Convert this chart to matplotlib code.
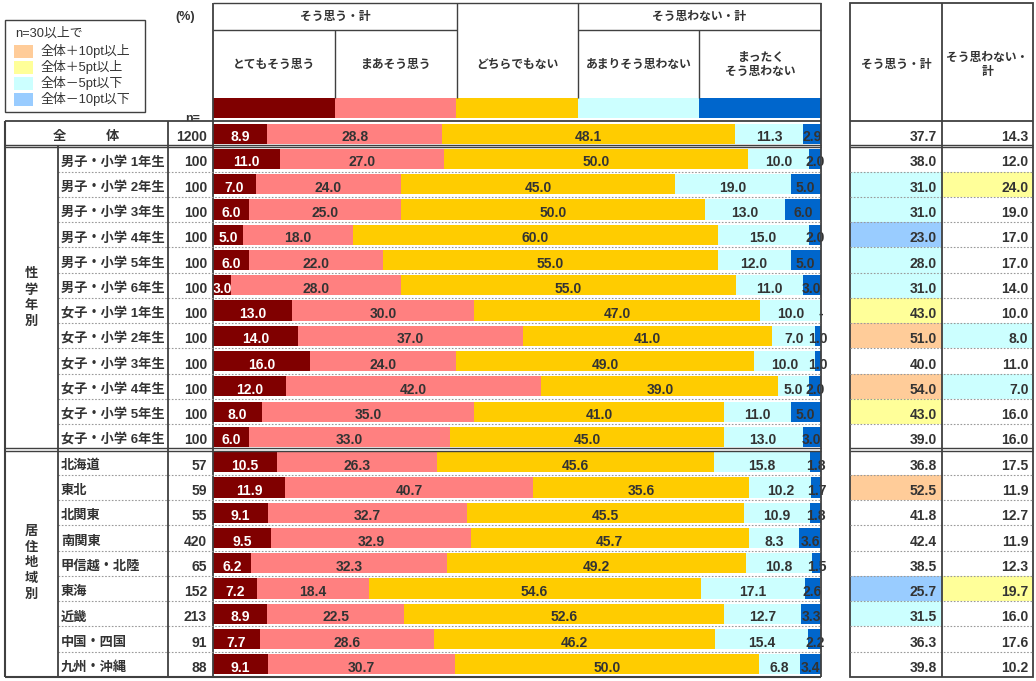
import matplotlib
matplotlib.use("Agg")
import matplotlib.pyplot as plt
from matplotlib.patches import Rectangle
import numpy as np

plt.rcParams['font.family'] = ['Liberation Sans', 'Noto Sans CJK JP']

# --- data -------------------------------------------------------------
series = ["とてもそう思う", "まあそう思う", "どちらでもない", "あまりそう思わない", "まったく\nそう思わない"]
series_colors = ["#800000", "#FF8080", "#FFCC00", "#CCFFFF", "#0066CC"]

row_labels = ["全　　　体",
              "男子・小学 1年生", "男子・小学 2年生", "男子・小学 3年生",
              "男子・小学 4年生", "男子・小学 5年生", "男子・小学 6年生",
              "女子・小学 1年生", "女子・小学 2年生", "女子・小学 3年生",
              "女子・小学 4年生", "女子・小学 5年生", "女子・小学 6年生",
              "北海道", "東北", "北関東", "南関東", "甲信越・北陸",
              "東海", "近畿", "中国・四国", "九州・沖縄"]
n_values = [1200] + [100] * 12 + [57, 59, 55, 420, 65, 152, 213, 91, 88]

very = [8.9, 11.0, 7.0, 6.0, 5.0, 6.0, 3.0, 13.0, 14.0, 16.0, 12.0, 8.0, 6.0,
        10.5, 11.9, 9.1, 9.5, 6.2, 7.2, 8.9, 7.7, 9.1]
fairly = [28.8, 27.0, 24.0, 25.0, 18.0, 22.0, 28.0, 30.0, 37.0, 24.0, 42.0, 35.0, 33.0,
          26.3, 40.7, 32.7, 32.9, 32.3, 18.4, 22.5, 28.6, 30.7]
neutral = [48.1, 50.0, 45.0, 50.0, 60.0, 55.0, 55.0, 47.0, 41.0, 49.0, 39.0, 41.0, 45.0,
           45.6, 35.6, 45.5, 45.7, 49.2, 54.6, 52.6, 46.2, 50.0]
not_much = [11.3, 10.0, 19.0, 13.0, 15.0, 12.0, 11.0, 10.0, 7.0, 10.0, 5.0, 11.0, 13.0,
            15.8, 10.2, 10.9, 8.3, 10.8, 17.1, 12.7, 15.4, 6.8]
not_at_all = [2.9, 2.0, 5.0, 6.0, 2.0, 5.0, 3.0, 0.0, 1.0, 1.0, 2.0, 5.0, 3.0,
              1.8, 1.7, 1.8, 3.6, 1.5, 2.6, 3.3, 2.2, 3.4]

agree_total = [37.7, 38.0, 31.0, 31.0, 23.0, 28.0, 31.0, 43.0, 51.0, 40.0, 54.0, 43.0, 39.0,
               36.8, 52.5, 41.8, 42.4, 38.5, 25.7, 31.5, 36.3, 39.8]
disagree_total = [14.3, 12.0, 24.0, 19.0, 17.0, 17.0, 14.0, 10.0, 8.0, 11.0, 7.0, 16.0, 16.0,
                  17.5, 11.9, 12.7, 11.9, 12.3, 19.7, 16.0, 17.6, 10.2]

groups = [("性\n学\n年\n別", 1, 12), ("居\n住\n地\n域\n別", 13, 21)]

legend_labels = ["全体＋10pt以上", "全体＋5pt以上", "全体－5pt以下", "全体－10pt以下"]
legend_colors = ["#FFCC99", "#FFFF99", "#CCFFFF", "#99CCFF"]

# --- layout (pixels) --------------------------------------------------
W, H = 1036, 681
TOP, BOT = 121, 677
nrows = len(row_labels)
rh = (BOT - TOP) / nrows
LC = "#404040"
TC = "#333333"
dy = 0.14  # text sits a little below the row centre


def highlight(v, base):
    d = v - base
    if d >= 10:
        return legend_colors[0]
    if d >= 5:
        return legend_colors[1]
    if d <= -10:
        return legend_colors[3]
    if d <= -5:
        return legend_colors[2]
    return "white"


fig = plt.figure(figsize=(W / 100, H / 100), dpi=100)

# bars
axb = fig.add_axes([213 / W, (H - BOT) / H, 608 / W, (BOT - (TOP - rh)) / H])
axb.set_xlim(0, 100)
axb.set_ylim(nrows - 0.5, -1.5)
axb.axis('off')

values = np.array([very, fairly, neutral, not_much, not_at_all]).T
rows = np.arange(nrows)
left = np.zeros(nrows)
for k in range(5):
    axb.barh(rows, values[:, k], left=left, height=0.8, color=series_colors[k], lw=0)
    axb.barh(-1, 20, left=20 * k, height=0.8, color=series_colors[k], lw=0)
    for i in rows:
        v = values[i, k]
        txt = f"{v:.1f}" if v > 0 else "-"
        axb.text(left[i] + v / 2, i + dy, txt, ha='center', va='center',
                 color='white' if k == 0 else TC, fontsize=10, fontweight='bold',
                 clip_on=False)
    left += values[:, k]

# right summary table
axt = fig.add_axes([850 / W, (H - BOT) / H, 183 / W, (BOT - TOP) / H])
axt.set_xlim(0, 2)
axt.set_ylim(nrows - 0.5, -0.5)
axt.axis('off')
for col, vals in enumerate([agree_total, disagree_total]):
    cols = [highlight(v, vals[0]) for v in vals]
    cols[0] = "white"
    axt.barh(rows, 1, left=col, height=1.0, color=cols, lw=0)
    for i in rows:
        axt.text(col + 0.95, i + dy, f"{vals[i]:.1f}", ha='right', va='center',
                 color=TC, fontsize=10, fontweight='bold')

# table frame, texts
ax = fig.add_axes([0, 0, 1, 1], zorder=5)
ax.set_xlim(0, W)
ax.set_ylim(H, 0)
ax.axis('off')
ax.patch.set_alpha(0)


def hl(y, x0, x1, **kw):
    kw.setdefault('color', LC)
    kw.setdefault('lw', 1.0)
    ax.plot([x0, x1], [y, y], solid_capstyle='butt', **kw)


def vl(x, y0, y1, **kw):
    kw.setdefault('color', LC)
    kw.setdefault('lw', 1.0)
    ax.plot([x, x], [y0, y1], solid_capstyle='butt', **kw)


def yb(i):
    return TOP + i * rh


# header of bar block
hl(3, 213, 821)
hl(30, 213, 457)
hl(30, 578, 821)
for x in (335, 699):
    vl(x, 30, 98)
for x in (457, 578):
    vl(x, 3, 98)
vl(213, 3, BOT, lw=1.3)
vl(821, 3, BOT, lw=1.3)
ax.text(335, 17, "そう思う・計", ha='center', va='center', fontsize=8.5, fontweight='bold', color=TC)
ax.text(699, 17, "そう思わない・計", ha='center', va='center', fontsize=8.5, fontweight='bold', color=TC)
for k, s in enumerate(series):
    ax.text(213 + 608 * (k + 0.5) / 5, 65, s, ha='center', va='center', fontsize=8.5,
            fontweight='bold', color=TC, linespacing=1.3)

ax.text(185, 17, "(%)", ha='center', va='center', fontsize=9, fontweight='bold', color=TC)
ax.text(193, 119, "n=", ha='center', va='center', fontsize=9, fontweight='bold', color=TC, zorder=1)
ax.add_patch(Rectangle((5, TOP), 208, rh, facecolor='white', edgecolor='none', zorder=1.5))

# legend box
ax.add_patch(Rectangle((5, 20), 140, 92, facecolor='white', edgecolor=LC, lw=1))
ax.text(15, 34, "n=30以上で", ha='left', va='center', fontsize=9.3, color=TC)
for j, (lab, c) in enumerate(zip(legend_labels, legend_colors)):
    ax.add_patch(Rectangle((14, 45 + 16 * j), 19, 13, facecolor=c, edgecolor='none'))
    ax.text(41, 51.5 + 16 * j, lab, ha='left', va='center', fontsize=9.3, color=TC)

# left table structure
hl(TOP, 5, 821, lw=1.3, zorder=3)
hl(BOT, 5, 821, lw=1.5, zorder=3)
vl(5, TOP, BOT, lw=1.5, zorder=3)
vl(168, TOP, BOT, lw=1.3, zorder=3)
vl(58, yb(1), BOT, lw=1.3, zorder=3)
for _, a, b in groups:
    ya = yb(a)
    hl(ya - 1.2, 5, 821, lw=1.0, zorder=3)
    hl(ya + 1.2, 5, 821, lw=1.0, zorder=3)
    hl(ya - 1.2, 850, 1033, lw=1.0, zorder=3)
    hl(ya + 1.2, 850, 1033, lw=1.0, zorder=3)
    for i in range(a + 1, b + 1):
        hl(yb(i), 58, 821, color='#9a9a9a', lw=0.8, ls=(0, (1.5, 1.5)))
        hl(yb(i), 850, 1033, color='#9a9a9a', lw=0.8, ls=(0, (1.5, 1.5)))
for label, a, b in groups:
    ax.text(31, (yb(a) + yb(b + 1)) / 2, label, ha='center', va='center', fontsize=9.5,
            fontweight='bold', color=TC, linespacing=1.4)

for i, (lab, n) in enumerate(zip(row_labels, n_values)):
    yc = yb(i) + rh / 2 + dy * rh
    if i == 0:
        ax.text(86, yc, lab, ha='center', va='center', fontsize=9.5, fontweight='bold', color=TC, zorder=4)
    else:
        ax.text(61, yc, lab, ha='left', va='center', fontsize=9.5, fontweight='bold', color=TC, zorder=4)
    ax.text(207, yc, str(n), ha='right', va='center', fontsize=10, fontweight='bold', color=TC, zorder=4)

# right table structure
ax.add_patch(Rectangle((850, 3), 183, BOT - 3, facecolor='none', edgecolor=LC, lw=1.3))
vl(942, 3, BOT, lw=1.3)
hl(TOP, 850, 1033, lw=1.3)
ax.text(896, 65, "そう思う・計", ha='center', va='center', fontsize=8.5, fontweight='bold', color=TC)
ax.text(987, 65, "そう思わない・\n計", ha='center', va='center', fontsize=8.5, fontweight='bold',
        color=TC, linespacing=1.3)

fig.savefig("out.png", dpi=100)
